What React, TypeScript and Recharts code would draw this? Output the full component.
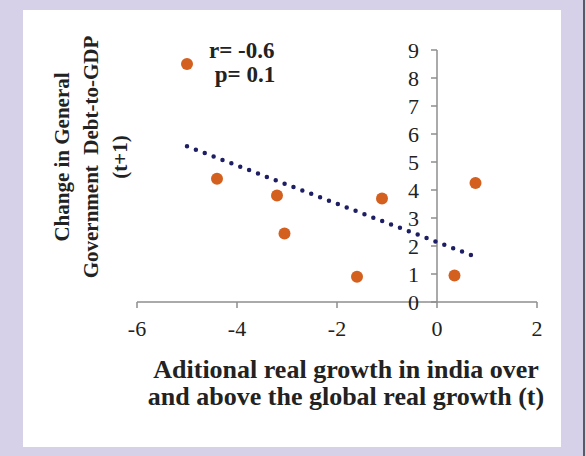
import { ScatterChart, Scatter, XAxis, YAxis, ReferenceLine } from "recharts";

// observed points: additional real growth (t) vs change in debt-to-GDP (t+1)
const growthX = [-5.0, -4.4, -3.2, -3.05, -1.6, -1.1, 0.35, 0.77];
const debtY = [8.5, 4.4, 3.8, 2.45, 0.9, 3.7, 0.95, 4.25];

// linear trend line end points
const trendX = [-5.0, 0.75];
const trendY = [5.56, 1.63];

const xTicks = [-6, -4, -2, 0, 2];
const yTicks = [0, 1, 2, 3, 4, 5, 6, 7, 8, 9];

const points = growthX.map((x, i) => ({ x, y: debtY[i] }));
const trend = trendX.map((x, i) => ({ x, y: trendY[i] }));
const yAxisTicks = yTicks.map((y) => ({ x: 0, y }));

const ORANGE = "#d4601f";
const NAVY = "#1e1e64";
const AXIS = "#8e8e8e";
const SERIF = "'Liberation Serif', 'Times New Roman', serif";

const Dot = (p: any) => <circle cx={p.cx} cy={p.cy} r={6} fill={ORANGE} />;

const YTick = (p: any) => (
  <g>
    <line x1={p.cx - 6} x2={p.cx} y1={p.cy} y2={p.cy} stroke={AXIS} strokeWidth={1.5} />
    <text
      x={p.cx - 18}
      y={p.cy}
      textAnchor="end"
      dominantBaseline="central"
      fontFamily={SERIF}
      fontSize={22}
      fill="#222"
    >
      {p.payload.y}
    </text>
  </g>
);

export default function App() {
  return (
    <div style={{ position: "absolute", left: 0, top: 0, width: 586, height: 456, background: "#d6d1e8" }}>
      <div style={{ position: "absolute", left: 583, top: 0, width: 2, height: 456, background: "#5a5a66" }} />
      <div style={{ position: "absolute", left: 23, top: 10, width: 538, height: 437, background: "#fff" }} />

      <div style={{ position: "absolute", left: 0, top: 0 }}>
        <ScatterChart width={586} height={456} margin={{ top: 50, right: 49, bottom: 124, left: 137 }}>
          <XAxis
            type="number"
            dataKey="x"
            domain={[-6, 2]}
            ticks={xTicks}
            height={30}
            axisLine={{ stroke: AXIS, strokeWidth: 1.5 }}
            tickLine={{ stroke: AXIS, strokeWidth: 1.5 }}
            tickSize={6}
            tickMargin={12}
            tick={{ fontFamily: SERIF, fontSize: 22, fill: "#222" }}
          />
          <YAxis type="number" dataKey="y" domain={[0, 9]} hide width={0} />
          <ReferenceLine x={0} stroke={AXIS} strokeWidth={1.5} />
          <Scatter data={yAxisTicks} shape={YTick} isAnimationActive={false} />
          <Scatter
            data={trend}
            line={{ stroke: NAVY, strokeWidth: 4.5, strokeDasharray: "0 9.5", strokeLinecap: "round" }}
            shape={() => <g />}
            isAnimationActive={false}
          />
          <Scatter data={points} shape={Dot} isAnimationActive={false} />
        </ScatterChart>
      </div>

      <div
        style={{
          position: "absolute",
          left: 209,
          top: 39,
          fontFamily: SERIF,
          fontWeight: "bold",
          fontSize: 23,
          lineHeight: "24px",
          color: "#222",
          whiteSpace: "pre",
        }}
      >
        {"r= -0.6\n p= 0.1"}
      </div>

      <div
        style={{
          position: "absolute",
          left: 96,
          top: 356,
          width: 500,
          textAlign: "center",
          fontFamily: SERIF,
          fontWeight: "bold",
          fontSize: 26,
          lineHeight: "27px",
          color: "#222",
        }}
      >
        Aditional real growth in india over
        <br />
        and above the global real growth (t)
      </div>

      <div
        style={{
          position: "absolute",
          left: 92 - 140,
          top: 157 - 44,
          width: 280,
          height: 88,
          transform: "rotate(-90deg)",
          textAlign: "center",
          fontFamily: SERIF,
          fontWeight: "bold",
          fontSize: 21,
          lineHeight: "29px",
          color: "#222",
          whiteSpace: "pre",
        }}
      >
        {"Change in General\nGovernment  Debt-to-GDP\n(t+1)"}
      </div>
    </div>
  );
}
